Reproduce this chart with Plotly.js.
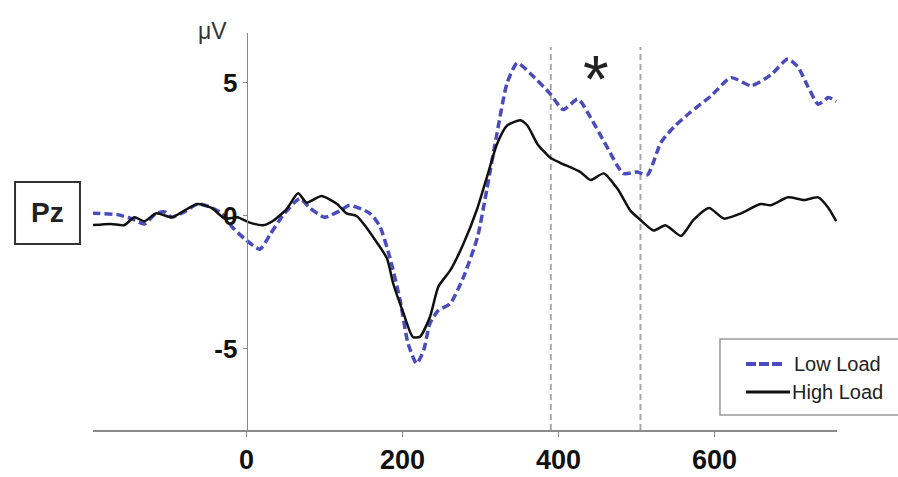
<!DOCTYPE html>
<html>
<head>
<meta charset="utf-8">
<script src="https://cdn.plot.ly/plotly-3.0.1.min.js"></script>
<style>html,body{margin:0;padding:0;background:#fff;}#chart{width:898px;height:477px;}</style>
</head>
<body>
<div id="chart"></div>
<script>
// ---- data ----
var seriesNames = ['Low Load', 'High Load'];
var lowTime = [-198,-166,-148,-131,-116,-105,-96,-80,-63,-48,-32,-19,-3,17,30,46,68,81,100,120,132,158,171,184,197,207,218,227,235,246,261,278,296,308,321,334,347,364,389,406,425,441,462,483,501,514,531,548,569,595,621,647,672,694,707,720,733,746,756];
var lowVals = [0.1,0.05,-0.1,-0.3,0.1,0.15,-0.05,0.15,0.45,0.35,0.1,-0.4,-0.85,-1.25,-0.7,0,0.65,0.3,-0.05,0.2,0.4,0.1,-0.4,-1.6,-3.2,-4.8,-5.55,-5.05,-4.05,-3.55,-3.3,-2.3,-0.8,1.0,3.1,5.0,5.75,5.35,4.6,4.0,4.4,3.7,2.6,1.6,1.65,1.55,2.75,3.35,3.9,4.5,5.2,4.9,5.3,5.9,5.6,4.85,4.2,4.45,4.3];
var highTime = [-199,-174,-157,-144,-131,-116,-96,-80,-63,-45,-28,-12,4,21,33,51,66,77,96,116,128,141,154,167,180,188,201,213,222,235,246,261,278,296,308,321,334,351,360,373,389,402,428,441,458,476,492,505,522,537,557,573,593,612,634,659,672,694,715,733,746,756];
var highVals = [-0.35,-0.3,-0.35,-0.05,-0.2,0.1,-0.05,0.2,0.45,0.3,-0.1,-0.05,-0.25,-0.35,-0.2,0.25,0.85,0.5,0.75,0.45,0.1,0,-0.45,-1.0,-1.6,-2.55,-3.65,-4.55,-4.55,-3.8,-2.65,-2.05,-1.05,0.3,1.45,2.7,3.4,3.6,3.4,2.7,2.2,2.0,1.65,1.35,1.6,1.0,0.2,-0.15,-0.55,-0.35,-0.75,-0.15,0.3,-0.1,0.1,0.45,0.4,0.7,0.6,0.7,0.3,-0.2];
var xTickVals = [0, 200, 400, 600];
var yTickVals = [-5, 0, 5];
var windowBounds = [390, 505];
var electrode = 'Pz';
var unitLabel = 'μV';
var sigMark = '*';

// ---- styles ----
var FONT = 'Arial, "Liberation Sans", sans-serif';
var BLUE = '#4a4cbd';
var xRange = [-197, 757];
var yRange = [-8.05, 6.88];

var traces = [
  {x: lowTime, y: lowVals, name: seriesNames[0], mode: 'lines', type: 'scatter',
   line: {color: BLUE, width: 3.5, dash: '8px,4px', shape: 'spline', smoothing: 0.6}},
  {x: highTime, y: highVals, name: seriesNames[1], mode: 'lines', type: 'scatter',
   line: {color: '#111', width: 2.5, shape: 'spline', smoothing: 0.6}}
];

var shapes = windowBounds.map(function (b) {
  return {type: 'line', xref: 'x', yref: 'y', x0: b, x1: b, y0: yRange[0], y1: 6.35,
          line: {color: '#a8a8a8', width: 2, dash: '6px,4px'}, layer: 'below'};
});
// Pz box
shapes.push({type: 'rect', xref: 'paper', yref: 'paper', x0: -0.1048, x1: -0.0175, y0: 0.4685, y1: 0.6247,
             line: {color: '#333', width: 2}, fillcolor: 'rgba(0,0,0,0)'});
// legend box + samples
shapes.push({type: 'rect', xref: 'paper', yref: 'paper', x0: 0.8427, x1: 1.2, y0: 0.0378, y1: 0.2292,
             line: {color: '#999', width: 1.5}, fillcolor: '#fff'});
shapes.push({type: 'line', xref: 'paper', yref: 'paper', x0: 0.8777, x1: 0.9301, y0: 0.1662, y1: 0.1662,
             line: {color: BLUE, width: 4, dash: '10px,3px'}});
shapes.push({type: 'line', xref: 'paper', yref: 'paper', x0: 0.8777, x1: 0.9368, y0: 0.0957, y1: 0.0957,
             line: {color: '#111', width: 3}});

var annotations = [
  {xref: 'paper', yref: 'paper', x: 0.161, y: 1.005, text: unitLabel, showarrow: false,
   font: {family: FONT, size: 23, color: '#333'}, xanchor: 'center', yanchor: 'middle'},
  {xref: 'paper', yref: 'paper', x: -0.0611, y: 0.5466, text: '<b>' + electrode + '</b>', showarrow: false,
   font: {family: FONT, size: 28, color: '#222'}, xanchor: 'center', yanchor: 'middle'},
  {xref: 'x', yref: 'y', x: (windowBounds[0] + windowBounds[1]) / 2, y: 5.15, text: sigMark, showarrow: false,
   font: {family: FONT, size: 66, color: '#222'}, xanchor: 'center', yanchor: 'middle'},
  {xref: 'paper', yref: 'paper', x: 0.9395, y: 0.1662, text: seriesNames[0], showarrow: false,
   font: {family: FONT, size: 20, color: '#222'}, xanchor: 'left', yanchor: 'middle'},
  {xref: 'paper', yref: 'paper', x: 0.9368, y: 0.0957, text: seriesNames[1], showarrow: false,
   font: {family: FONT, size: 20, color: '#222'}, xanchor: 'left', yanchor: 'middle'}
];

var layout = {
  width: 898, height: 477,
  margin: {l: 93, r: 61, t: 33, b: 47, pad: 0},
  paper_bgcolor: '#fff', plot_bgcolor: '#fff',
  showlegend: false,
  font: {family: FONT, color: '#111'},
  xaxis: {range: xRange, tickvals: xTickVals, ticktext: xTickVals.map(function(v){return '<b>'+v+'</b>';}),
          showgrid: false, zeroline: false, showline: true, linecolor: '#8a8a8a', linewidth: 2,
          ticks: 'outside', ticklen: 5, tickcolor: '#8a8a8a', tickwidth: 1.5,
          tickfont: {family: FONT, size: 27, color: '#111'}, automargin: false, fixedrange: true},
  yaxis: {range: yRange, tickvals: yTickVals, ticktext: yTickVals.map(function(v){return '<b>'+v+'</b>';}),
          anchor: 'free', position: (0 - xRange[0]) / (xRange[1] - xRange[0]),
          showgrid: false, zeroline: false, showline: true, linecolor: '#8a8a8a', linewidth: 1.5,
          ticks: 'outside', ticklen: 4, tickcolor: '#8a8a8a', tickwidth: 1,
          tickfont: {family: FONT, size: 26, color: '#111'}, automargin: false, fixedrange: true},
  shapes: shapes,
  annotations: annotations
};

Plotly.newPlot('chart', traces, layout, {displayModeBar: false, staticPlot: true});
</script>
</body>
</html>
